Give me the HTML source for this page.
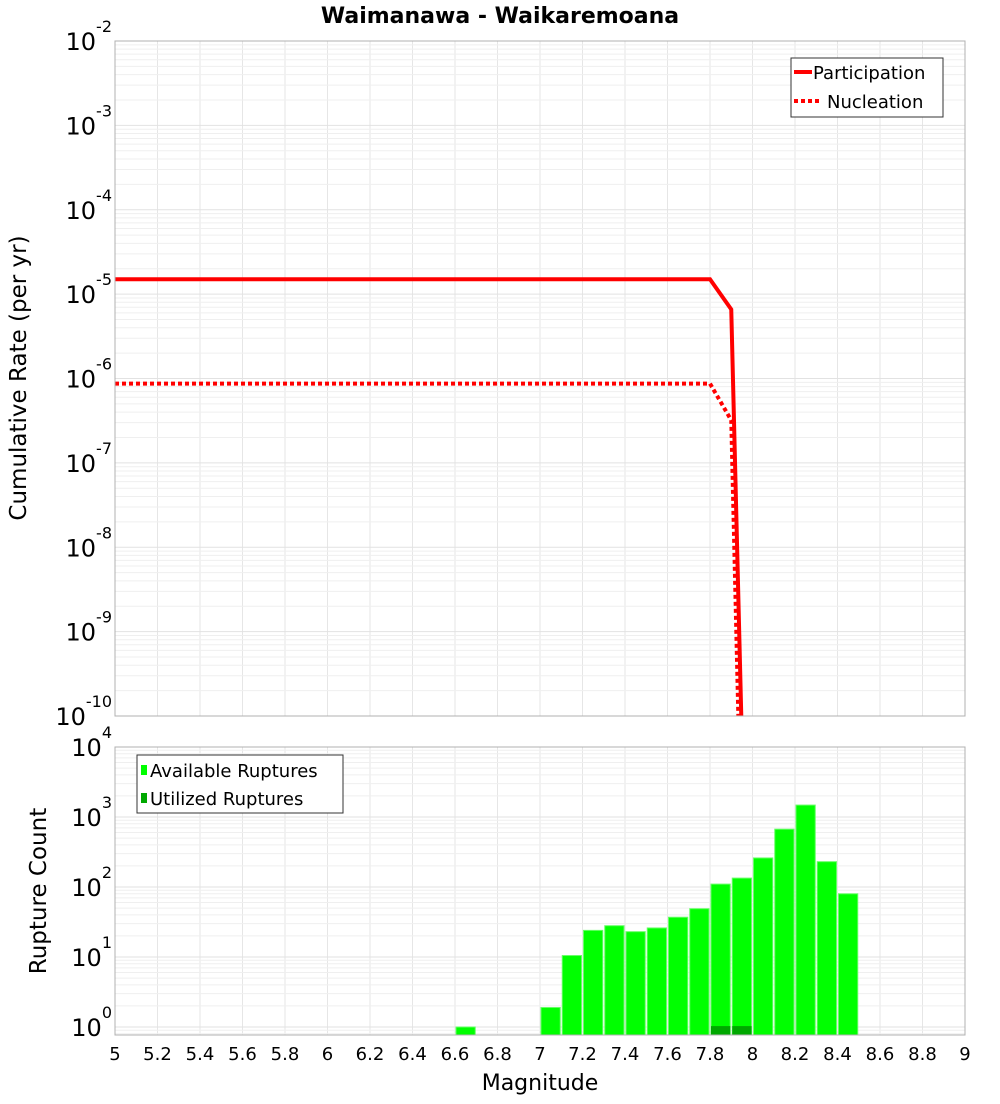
<!DOCTYPE html>
<html><head><meta charset="utf-8"><style>
body{margin:0;background:#fff;font-family:"DejaVu Sans","Liberation Sans",sans-serif}
svg text{font-family:"DejaVu Sans","Liberation Sans",sans-serif}
</style></head><body>
<svg id="c" width="1000" height="1100" xmlns="http://www.w3.org/2000/svg">
<text x="500" y="23" text-anchor="middle" font-size="22" font-weight="bold">Waimanawa - Waikaremoana</text>
<g id="topg"></g>
<g id="botg"></g>
<text transform="translate(26,378) rotate(-90)" text-anchor="middle" font-size="23">Cumulative Rate (per yr)</text>
<text transform="translate(46,891) rotate(-90)" text-anchor="middle" font-size="23">Rupture Count</text>
<text x="540" y="1090" text-anchor="middle" font-size="22">Magnitude</text>
</svg>
<script>
const mags=[5,7.8,7.9,8.0];
const participation=[1.5e-5,1.5e-5,6.6e-6,4e-16];
const nucleation=[8.7e-7,8.7e-7,3.2e-7,1e-17];
const binCenters=[6.65,7.05,7.15,7.25,7.35,7.45,7.55,7.65,7.75,7.85,7.95,8.05,8.15,8.25,8.35,8.45];
const available=[1,1.9,10.5,24,28,23,26,37,49,110,134,260,670,1480,230,80];
const utilizedCenters=[7.85,7.95];
const utilized=[1.03,1.03];
const xTicks=[5,5.2,5.4,5.6,5.8,6,6.2,6.4,6.6,6.8,7,7.2,7.4,7.6,7.8,8,8.2,8.4,8.6,8.8,9];
const topDecades=[-10,-9,-8,-7,-6,-5,-4,-3,-2];
const botDecades=[0,1,2,3,4];

(function(){
const NS='http://www.w3.org/2000/svg';
const L=115,R=965;
const x=m=>L+(m-5)/4*(R-L);
const T0=41,T1=716,yT=v=>T0+(-2-Math.log10(v))*(T1-T0)/8;
const B0=747,B1=1035,BD=70,yB=v=>B0+(4-Math.log10(v))*BD;
function el(p,t,a){const e=document.createElementNS(NS,t);for(const k in a)e.setAttribute(k,a[k]);p.appendChild(e);return e;}
const topG=document.getElementById('topg'),botG=document.getElementById('botg'),svg=document.getElementById('c');
const defs=el(svg,'defs',{});
const cp1=el(defs,'clipPath',{id:'cT'});el(cp1,'rect',{x:L,y:T0,width:R-L,height:T1-T0});
const cp2=el(defs,'clipPath',{id:'cB'});el(cp2,'rect',{x:L,y:B0,width:R-L,height:B1-B0});
function grid(g,y0,y1,decs,yf){
  for(const t of xTicks){const l=el(g,'line',{x1:x(t),x2:x(t),y1:y0,y2:y1,stroke:'#e6e6e6'});
    
    }
  for(let d=decs[0]-1;d<=decs[decs.length-1];d++)for(let k=1;k<10;k++){const yy=yf(k*Math.pow(10,d));if(yy<y0||yy>y1)continue;
    const l=el(g,'line',{x1:L,x2:R,y1:yy,y2:yy,stroke:k==1?'#e2e2e2':'#efefef'});
    
    }
}
grid(topG,T0,T1,topDecades,yT);grid(botG,B0,B1,botDecades,yB);
function ylabels(g,decs,yf){for(const d of decs){const yy=yf(Math.pow(10,d));
  const t=el(g,'text',{x:L-3,y:yy+9,'text-anchor':'end','font-size':24});
  
  
  const s1=document.createElementNS(NS,'tspan');s1.textContent='10';t.appendChild(s1);
  const s2=document.createElementNS(NS,'tspan');s2.setAttribute('dy','-18');s2.setAttribute('font-size','16');s2.textContent=String(d);t.appendChild(s2);}}
ylabels(topG,topDecades,yT);ylabels(botG,botDecades,yB);
for(const t of xTicks){const tx=el(botG,'text',{x:x(t),y:1060,'text-anchor':'middle','font-size':18});tx.textContent=String(t);
  
  }
const bg=el(botG,'g',{'clip-path':'url(#cB)'});
const bw=(x(5.1)-x(5))-2;
binCenters.forEach((m,i)=>{const r=el(bg,'rect',{x:x(m)-bw/2,y:yB(available[i]),width:bw,height:B1-yB(available[i]),fill:'#00ff00',stroke:'#66ff66','stroke-width':1});
  
  });
utilizedCenters.forEach((m,i)=>{const r=el(bg,'rect',{x:x(m)-bw/2,y:yB(utilized[i]),width:bw,height:B1-yB(utilized[i]),fill:'#00a800'});
  
  });
const lg=el(topG,'g',{'clip-path':'url(#cT)'});
const pts=a=>mags.map((m,i)=>x(m)+','+yT(a[i])).join(' ');
const p1=el(lg,'polyline',{points:pts(participation),fill:'none',stroke:'#ff0000','stroke-width':4});


const p2=el(lg,'polyline',{points:pts(nucleation),fill:'none',stroke:'#ff0000','stroke-width':4,'stroke-dasharray':'4 3'});


el(topG,'rect',{x:L,y:T0,width:R-L,height:T1-T0,fill:'none',stroke:'#b0b0b0'});
el(botG,'rect',{x:L,y:B0,width:R-L,height:B1-B0,fill:'none',stroke:'#b0b0b0'});
const lg1=el(svg,'g',{});


el(lg1,'rect',{x:791,y:58,width:152,height:59,fill:'#fff',stroke:'#333'});
el(lg1,'line',{x1:794,x2:812,y1:72,y2:72,stroke:'#f00','stroke-width':4});
let t=el(lg1,'text',{x:813,y:79,'font-size':18});t.textContent='Participation';
el(lg1,'line',{x1:794,x2:822,y1:101,y2:101,stroke:'#f00','stroke-width':4,'stroke-dasharray':'4 3'});
t=el(lg1,'text',{x:827,y:108,'font-size':18});t.textContent='Nucleation';
const lg2=el(svg,'g',{});


el(lg2,'rect',{x:137,y:755,width:206,height:58,fill:'#fff',stroke:'#333'});
el(lg2,'rect',{x:141,y:765,width:6,height:10,fill:'#00ff00'});
t=el(lg2,'text',{x:150,y:777,'font-size':18});t.textContent='Available Ruptures';
el(lg2,'rect',{x:141,y:793,width:6,height:10,fill:'#00a800'});
t=el(lg2,'text',{x:150,y:805,'font-size':18});t.textContent='Utilized Ruptures';
})();
</script>
</body></html>
